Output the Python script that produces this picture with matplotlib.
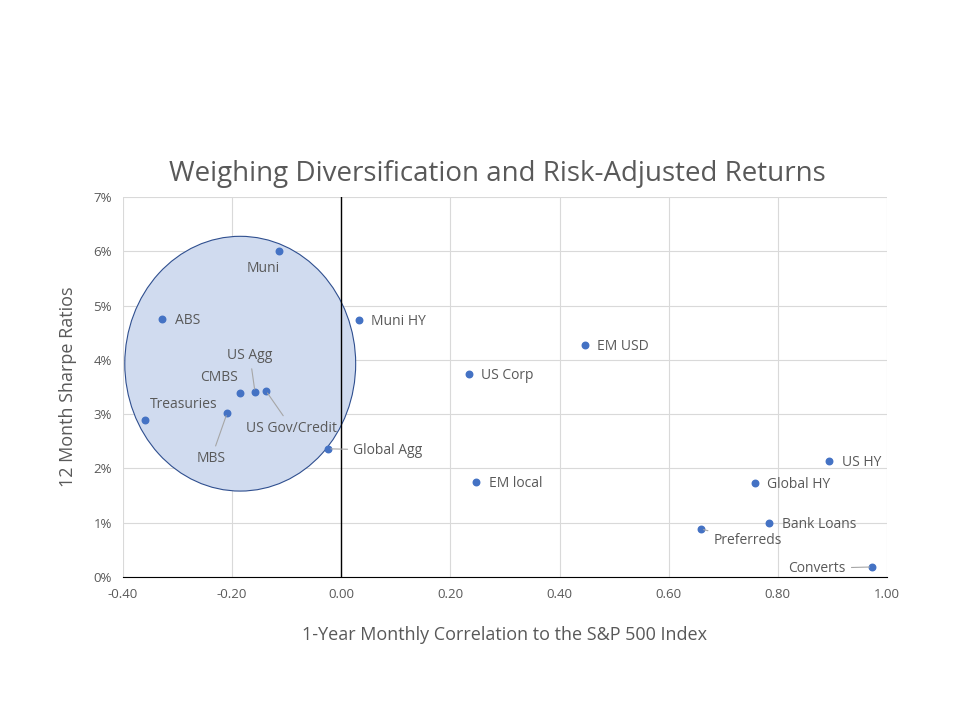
import matplotlib.pyplot as plt
from matplotlib.patches import Ellipse
from matplotlib.ticker import FuncFormatter

plt.rcParams['font.family'] = ['Open Sans', 'DejaVu Sans']

names = ['Muni', 'ABS', 'Muni HY', 'EM USD', 'US Corp', 'US Agg', 'US Gov/Credit',
         'CMBS', 'MBS', 'Treasuries', 'Global Agg', 'EM local', 'US HY', 'Global HY',
         'Bank Loans', 'Preferreds', 'Converts']
corr = [-0.114, -0.328, 0.032, 0.446, 0.234, -0.158, -0.138,
        -0.186, -0.209, -0.360, -0.024, 0.247, 0.894, 0.758,
        0.784, 0.659, 0.973]
sharpe = [6.00, 4.75, 4.73, 4.27, 3.74, 3.41, 3.43,
          3.39, 3.02, 2.89, 2.36, 1.75, 2.14, 1.73,
          0.99, 0.88, 0.18]

# label offsets in points (dx, dy), alignment, leader line
label_pos = {
    'Muni': (-23, -12, 'left', False),
    'ABS': (9, -1, 'left', False),
    'Muni HY': (9, -1, 'left', False),
    'EM USD': (9, -1, 'left', False),
    'US Corp': (9, -1, 'left', False),
    'US Agg': (-20, 26, 'left', True),
    'US Gov/Credit': (-14, -27, 'left', True),
    'CMBS': (-1, 11, 'right', False),
    'MBS': (-22, -33, 'left', True),
    'Treasuries': (4, 11, 'left', False),
    'Global Agg': (18, -1, 'left', True),
    'EM local': (9, -1, 'left', False),
    'US HY': (9, -1, 'left', False),
    'Global HY': (9, -1, 'left', False),
    'Bank Loans': (9, -1, 'left', False),
    'Preferreds': (9, -8, 'left', True),
    'Converts': (-19, -1, 'right', True),
}

blue = '#4472C4'
gray = '#595959'

fig = plt.figure(figsize=(9.6, 7.2), dpi=100)
ax = fig.add_axes([0.128, 0.199, 0.796, 0.527])

ax.add_patch(Ellipse((-0.185, 3.93), 0.423, 4.70, facecolor='#D0DBEF',
                     edgecolor='#2F4F8F', linewidth=0.8, zorder=1))

ax.scatter(corr, sharpe, s=22, color=blue, zorder=3)

for n, x, y in zip(names, corr, sharpe):
    dx, dy, ha, lead = label_pos[n]
    if lead:
        ax.annotate(n, (x, y), xytext=(dx, dy), textcoords='offset points',
                    ha=ha, va='center', fontsize=10, color=gray,
                    arrowprops=dict(arrowstyle='-', color='#A6A6A6', lw=0.8,
                                    shrinkA=2, shrinkB=2), zorder=4)
    else:
        ax.annotate(n, (x, y), xytext=(dx, dy), textcoords='offset points',
                    ha=ha, va='center', fontsize=10, color=gray, zorder=4)

ax.set_xlim(-0.4, 1.0)
ax.set_ylim(0, 7)
ax.set_xticks([-0.4, -0.2, 0.0, 0.2, 0.4, 0.6, 0.8, 1.0])
ax.set_yticks(range(0, 8))
ax.xaxis.set_major_formatter(FuncFormatter(lambda v, p: f'{v:.2f}'))
ax.yaxis.set_major_formatter(FuncFormatter(lambda v, p: f'{v:.0f}%'))
ax.grid(True, color='#D9D9D9', linewidth=0.8, zorder=0)
ax.set_axisbelow(True)
ax.axvline(0, color='black', linewidth=1, zorder=2)
for s in ['top', 'right', 'left']:
    ax.spines[s].set_visible(False)
ax.spines['bottom'].set_color('black')
ax.tick_params(length=0, labelsize=9.5, colors=gray, pad=8)

ax.set_xlabel('1-Year Monthly Correlation to the S&P 500 Index', fontsize=13,
              color=gray, labelpad=18)
ax.set_ylabel('12 Month Sharpe Ratios', fontsize=13, color=gray, labelpad=12)
fig.suptitle('Weighing Diversification and Risk-Adjusted Returns', x=0.518, y=0.778,
             fontsize=20, color=gray)

fig.savefig('out.png', dpi=100)
